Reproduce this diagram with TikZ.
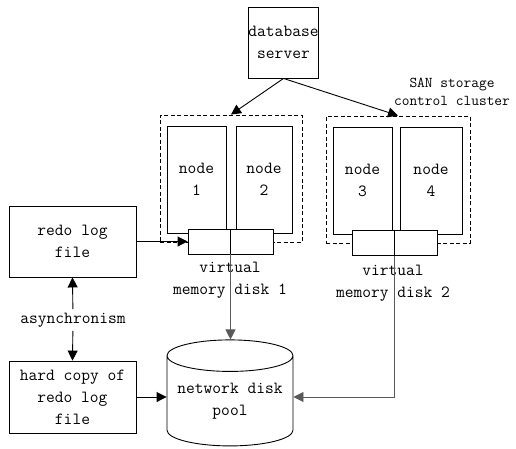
\documentclass[tikz,border=0pt]{standalone}
\usetikzlibrary{arrows.meta,shapes.geometric}

\begin{document}
\begin{tikzpicture}[x=1pt, y=-1pt, line width=0.9pt,
    every node/.style={font=\ttfamily\fontsize{17}{22}\selectfont, align=center},
    box/.style={draw, fill=white, inner sep=0pt},
    cluster/.style={draw, dashed, dash pattern=on 4pt off 2.5pt, inner sep=0pt},
    arr/.style={-{Triangle[length=10pt, width=10pt]}},
    link/.style={arr, draw=black!65}]
  \useasboundingbox (0, 0) rectangle (516, 448);

  %% 数据库服务器
  \node[box, minimum width=63, minimum height=71] (server) at (283.5, 42.5) {database\\server};

  %% SAN 存储控制集群
  \node[cluster, minimum width=142, minimum height=127] (clusterL) at (231, 178.5) {};
  \node[cluster, minimum width=144, minimum height=127] (clusterR) at (398, 179.5) {};
  \node[font=\ttfamily\fontsize{15}{18}\selectfont] (san) at (452, 92) {SAN storage\\control cluster};

  %% 节点
  \node[box, minimum width=59, minimum height=107] (node1) at (196.5, 179.5) {node\\1};
  \node[box, minimum width=56, minimum height=107] (node2) at (264, 179.5) {node\\2};
  \node[box, minimum width=59, minimum height=107] (node3) at (362.5, 180.5) {node\\3};
  \node[box, minimum width=62, minimum height=107] (node4) at (431, 180.5) {node\\4};

  %% 虚拟内存盘
  \node[box, minimum width=85, minimum height=25] (disk1) at (230.5, 241.5) {};
  \node[box, minimum width=85, minimum height=25] (disk2) at (394.5, 243) {};
  \draw (disk1.north) -- (disk1.south);
  \draw (disk2.north) -- (disk2.south);
  \node (vmd1) at (230, 280.5) {virtual\\memory disk 1};
  \node (vmd2) at (393, 283) {virtual\\memory disk 2};

  %% 日志文件
  \node[box, minimum width=127, minimum height=71] (redo) at (72.5, 241.5) {redo log\\file};
  \node[box, minimum width=127, minimum height=72] (hard) at (72.5, 397) {hard copy of\\redo log\\file};
  \node (async) at (73, 320) {asynchronism};

  %% 网络磁盘池
  \node[draw, cylinder, shape border rotate=90, aspect=0.3,
        minimum width=126, minimum height=106, inner sep=0pt] (pool) at (230, 401) {network disk\\pool};

  %% 连线
  \draw[arr] (server.south) -- (clusterL.north);
  \draw[arr] (server.south) -- (clusterR.north);
  \draw[arr] (redo.east) -- (disk1.west);
  \draw[arr] (async) -- (redo.south);
  \draw[arr] (async) -- (hard.north);
  \draw[arr] (hard.east) -- (hard.east -| pool.west);
  \draw[link] (disk1.south) -- (disk1.south |- pool.north);
  \draw[link] (disk2.south) |- (hard.east -| pool.east);
\end{tikzpicture}
\end{document}
